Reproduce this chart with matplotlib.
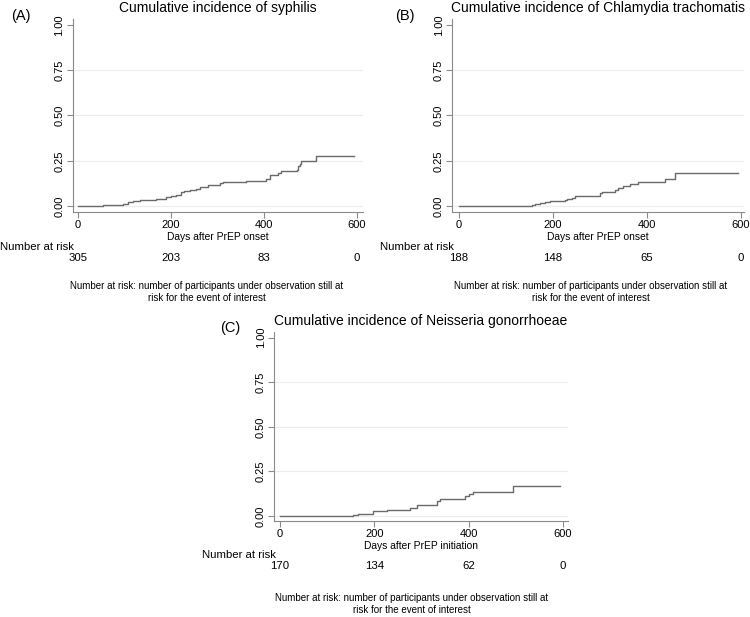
import matplotlib.pyplot as plt
from matplotlib.transforms import blended_transform_factory

plt.rcParams['font.family'] = ['Liberation Sans', 'DejaVu Sans']

# step curves (day, cumulative incidence)
syph_days = [0, 54, 86, 97, 108, 118, 133, 147, 168, 183, 190, 201, 211, 222, 229,
             240, 254, 262, 280, 297, 305, 312, 362, 398, 405, 412, 430, 437,
             470, 473, 477, 480, 511, 593]
syph_ci = [0, 0.003, 0.006, 0.013, 0.020, 0.026, 0.031, 0.035, 0.037, 0.040, 0.050,
           0.057, 0.063, 0.075, 0.083, 0.088, 0.096, 0.105, 0.114, 0.118, 0.125,
           0.130, 0.136, 0.140, 0.149, 0.173, 0.182, 0.191, 0.200, 0.219, 0.232,
           0.248, 0.279, 0.279]

chla_days = [0, 155, 162, 172, 183, 194, 226, 229, 240, 247, 254, 300, 304, 332,
             339, 350, 364, 382, 439, 460, 595]
chla_ci = [0, 0.006, 0.011, 0.017, 0.022, 0.028, 0.033, 0.040, 0.046, 0.053, 0.057,
           0.072, 0.079, 0.086, 0.097, 0.108, 0.119, 0.130, 0.149, 0.184, 0.184]

gono_days = [0, 154, 166, 198, 226, 276, 290, 333, 340, 393, 400, 410, 495, 594]
gono_ci = [0, 0.006, 0.013, 0.026, 0.036, 0.045, 0.060, 0.082, 0.093, 0.112,
           0.123, 0.135, 0.166, 0.166]

at_risk_days = [0, 200, 400, 600]
syph_risk = [305, 203, 83, 0]
chla_risk = [188, 148, 65, 0]
gono_risk = [170, 134, 62, 0]

W, H = 750, 617
fig = plt.figure(figsize=(7.5, 6.17), dpi=100)


def px_axes(l, r, b, t):
    return fig.add_axes([l / W, 1 - b / H, (r - l) / W, (b - t) / H])


def panel(ax, days, ci, risk, title, letter, letter_xy, xlabel, xlim, ylim,
          nar_x, nar_y, num_y, foot_x, foot_y):
    ax.step(days, ci, where='post', color='#6a6a6a', lw=1.0)
    ax.set_xlim(*xlim)
    ax.set_ylim(*ylim)
    ax.set_xticks([0, 200, 400, 600])
    ax.set_yticks([0, 0.25, 0.5, 0.75, 1.0])
    ax.set_yticklabels(['0.00', '0.25', '0.50', '0.75', '1.00'], rotation=90, va='center')
    for y in [0, 0.25, 0.5, 0.75]:
        ax.axhline(y, color='#ececec', lw=0.8, zorder=0)
    for s in ['top', 'right']:
        ax.spines[s].set_visible(False)
    for s in ['left', 'bottom']:
        ax.spines[s].set_color('#8a8a8a')
        ax.spines[s].set_linewidth(0.8)
    ax.tick_params(colors='#8a8a8a', labelcolor='black', labelsize=8, length=4, width=0.8, pad=2)
    ax.set_title(title, fontsize=10, pad=5)
    ax.set_xlabel(xlabel, fontsize=7.4, labelpad=1.5)
    fig.text(letter_xy[0] / W, 1 - letter_xy[1] / H, letter, fontsize=10.5,
             ha='center', va='center')
    fig.text(nar_x / W, 1 - nar_y / H, 'Number at risk', fontsize=8.2, va='center')
    tr = blended_transform_factory(ax.transData, fig.transFigure)
    for d, n in zip(at_risk_days, risk):
        ax.text(d, 1 - num_y / H, str(n), transform=tr, ha='center', va='center',
                fontsize=8.2, clip_on=False)
    fig.text(foot_x / W, 1 - foot_y / H,
             'Number at risk: number of participants under observation still at\n'
             'risk for the event of interest', fontsize=7, ha='center', va='center',
             linespacing=1.3)


axA = px_axes(72.7, 363, 212, 19)
panel(axA, syph_days, syph_ci, syph_risk, 'Cumulative incidence of syphilis', '(A)',
      (21, 16), 'Days after PrEP onset', (-11.4, 613), (-0.033, 1.033),
      0, 247, 258, 207, 292)

axB = px_axes(452, 744, 212, 19)
panel(axB, chla_days, chla_ci, chla_risk, 'Cumulative incidence of Chlamydia trachomatis',
      '(B)', (405, 16), 'Days after PrEP onset', (-15, 607), (-0.033, 1.033),
      380, 247, 258, 591, 292)

axC = px_axes(274, 568, 521, 332)
panel(axC, gono_days, gono_ci, gono_risk, 'Cumulative incidence of Neisseria gonorrhoeae',
      '(C)', (230, 328), 'Days after PrEP initiation', (-12.7, 611), (-0.028, 1.032),
      202, 555, 566, 412, 604)

fig.savefig('out.png', dpi=100, facecolor='white')
